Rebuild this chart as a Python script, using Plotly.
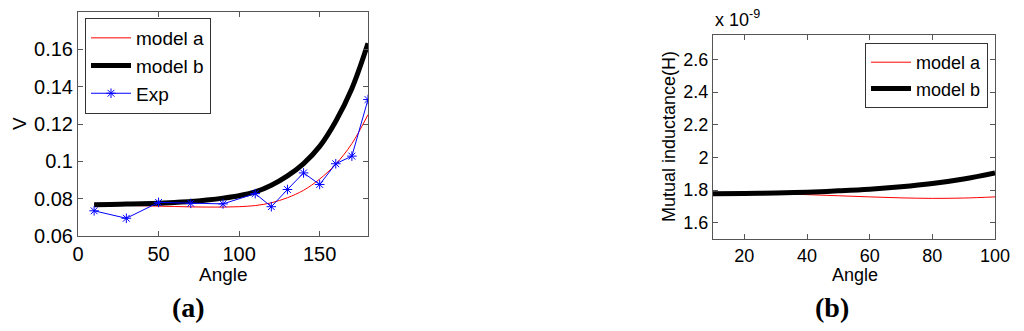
import plotly.graph_objects as go

# ---------- data (a) ----------
angle_a = [10, 20, 30, 40, 50, 60, 70, 80, 90, 100, 110, 120, 130, 140, 150, 160, 170, 180]
model_a_v = [0.0768, 0.0766, 0.0764, 0.0762, 0.0760, 0.0758, 0.0756, 0.0755, 0.0755, 0.0757,
             0.0763, 0.0778, 0.0805, 0.0845, 0.0905, 0.0985, 0.1095, 0.1250]
model_b_v = [0.0768, 0.0769, 0.0771, 0.0773, 0.0776, 0.0780, 0.0785, 0.0793, 0.0803, 0.0816,
             0.0836, 0.0872, 0.0922, 0.0988, 0.1080, 0.1215, 0.1390, 0.1632]
exp_angle = [10, 30, 50, 70, 90, 110, 120, 130, 140, 150, 160, 170, 180]
exp_v = [0.0735, 0.0695, 0.0780, 0.0775, 0.0772, 0.0827, 0.0757, 0.0849, 0.0938, 0.0876,
         0.0987, 0.1028, 0.1331]

# ---------- data (b) ----------
angle_b = [10, 20, 30, 40, 50, 60, 70, 80, 90, 100]
model_a_m = [1.780, 1.779, 1.777, 1.772, 1.765, 1.758, 1.752, 1.749, 1.751, 1.758]
model_b_m = [1.778, 1.779, 1.782, 1.787, 1.795, 1.805, 1.820, 1.840, 1.868, 1.905]

xticks_a = [0, 50, 100, 150]
yticks_a = [0.06, 0.08, 0.10, 0.12, 0.14, 0.16]
yticklabels_a = ["0.06", "0.08", "0.1", "0.12", "0.14", "0.16"]
xticks_b = [20, 40, 60, 80, 100]
yticks_b = [1.6, 1.8, 2.0, 2.2, 2.4, 2.6]
yticklabels_b = ["1.6", "1.8", "2", "2.2", "2.4", "2.6"]

FONT = "Liberation Sans, Arial, Helvetica, sans-serif"
OFF = 8  # page body margin
W, H = 1024 - OFF, 331 - OFF

def px_x(p):
    return (p - OFF) / W

def px_y(p):
    return 1 - (p - OFF) / H

fig = go.Figure()

fig.add_trace(go.Scatter(x=angle_a, y=model_a_v, mode="lines", name="model a",
                         line=dict(color="#ff0000", width=1, shape="spline"),
                         xaxis="x", yaxis="y", legend="legend"))
fig.add_trace(go.Scatter(x=angle_a, y=model_b_v, mode="lines", name="model b",
                         line=dict(color="#000000", width=5, shape="spline"),
                         xaxis="x", yaxis="y", legend="legend"))
fig.add_trace(go.Scatter(x=exp_angle, y=exp_v, mode="lines+markers", name="Exp",
                         line=dict(color="#0000ff", width=1),
                         marker=dict(symbol="asterisk-open", size=8,
                                     line=dict(color="#0000ff", width=1)),
                         xaxis="x", yaxis="y", legend="legend"))

fig.add_trace(go.Scatter(x=angle_b, y=model_a_m, mode="lines", name="model a",
                         line=dict(color="#ff0000", width=1, shape="spline"),
                         xaxis="x2", yaxis="y2", legend="legend2"))
fig.add_trace(go.Scatter(x=angle_b, y=model_b_m, mode="lines", name="model b",
                         line=dict(color="#000000", width=5, shape="spline"),
                         xaxis="x2", yaxis="y2", legend="legend2"))

axis_common = dict(showgrid=False, zeroline=False, showline=True, linecolor="#555555",
                   linewidth=1, mirror="ticks", ticks="inside", ticklen=5,
                   tickcolor="#555555", automargin=False)

fig.update_layout(
    template="none",
    width=W, height=H,
    margin=dict(l=0, r=0, t=0, b=0, pad=0),
    paper_bgcolor="white", plot_bgcolor="white",
    font=dict(family=FONT, color="black"),
    xaxis=dict(domain=[px_x(78), px_x(368)], range=[0, 180], tickvals=xticks_a,
               tickfont=dict(size=20), anchor="y", **axis_common),
    yaxis=dict(domain=[px_y(236), px_y(12)], range=[0.06, 0.18], tickvals=yticks_a,
               ticktext=yticklabels_a, tickfont=dict(size=20), anchor="x", **axis_common),
    xaxis2=dict(domain=[px_x(713), px_x(995)], range=[10, 100], tickvals=xticks_b,
                tickfont=dict(size=18), anchor="y2", **axis_common),
    yaxis2=dict(domain=[px_y(239), px_y(35)], range=[1.5, 2.75], tickvals=yticks_b,
                ticktext=yticklabels_b, tickfont=dict(size=18), anchor="x2", **axis_common),
    legend=dict(x=px_x(85), y=px_y(18), xanchor="left", yanchor="top",
                bordercolor="#333333", borderwidth=1, bgcolor="white",
                font=dict(size=19), itemwidth=40, tracegroupgap=0),
    legend2=dict(x=px_x(988), y=px_y(43), xanchor="right", yanchor="top",
                 bordercolor="#333333", borderwidth=1, bgcolor="white",
                 font=dict(size=18), itemwidth=40, tracegroupgap=0),
    showlegend=True,
)

annotations = [
    dict(text="Angle", x=px_x(223), y=px_y(274), font=dict(size=19)),
    dict(text="Angle", x=px_x(855), y=px_y(275), font=dict(size=18)),
    dict(text="V", x=px_x(20), y=px_y(124), textangle=-90, font=dict(size=19)),
    dict(text="Mutual inductance(H)", x=px_x(669), y=px_y(137), textangle=-90,
         font=dict(size=18)),
    dict(text="x 10<sup>-9</sup>", x=px_x(713), y=px_y(32), xanchor="left",
         yanchor="bottom", font=dict(size=18)),
    dict(text="<b>(a)</b>", x=px_x(188), y=px_y(307),
         font=dict(size=28, family="Liberation Serif, Times New Roman, serif")),
    dict(text="<b>(b)</b>", x=px_x(832), y=px_y(307),
         font=dict(size=28, family="Liberation Serif, Times New Roman, serif")),
]
for a in annotations:
    a.setdefault("xanchor", "center")
    a.setdefault("yanchor", "middle")
    fig.add_annotation(xref="paper", yref="paper", showarrow=False, **a)

fig.write_html("out.html")
